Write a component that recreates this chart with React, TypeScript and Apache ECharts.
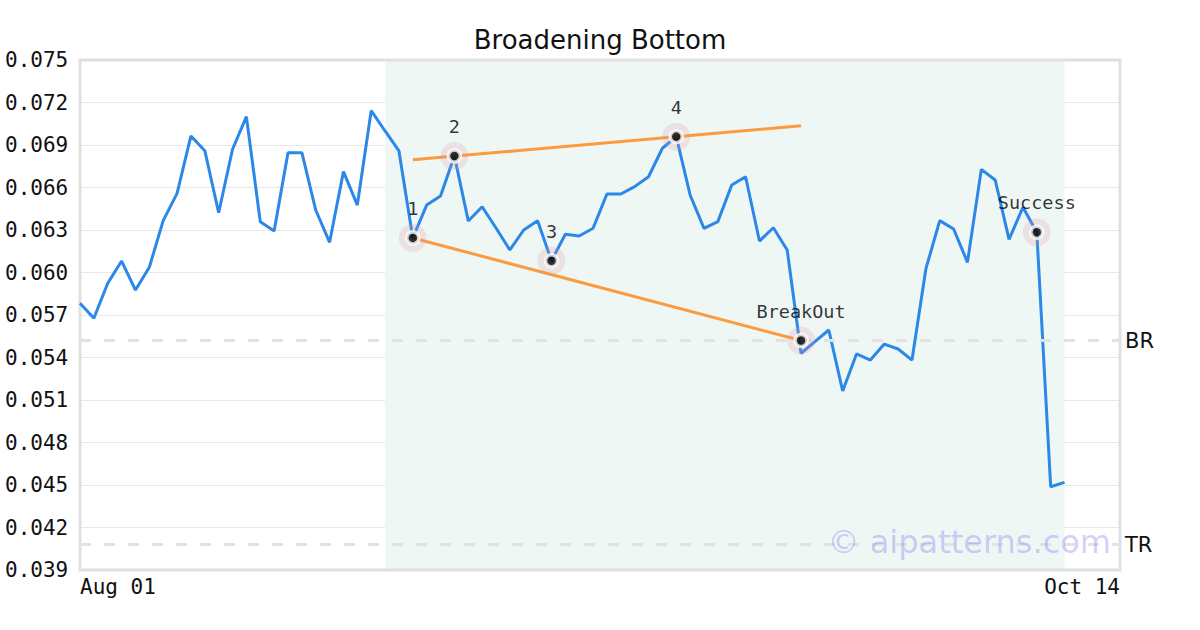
import React, { useEffect, useRef } from "react";
import * as echarts from "echarts";

// ---- data ----
const chartTitle = "Broadening Bottom";
const xTickLabels = ["Aug 01", "Oct 14"];
const xAxisMax = 75; // days shown on the axis

const priceValues = [
  0.05783, 0.05677, 0.05924, 0.06081, 0.05876, 0.06037, 0.06366, 0.06559, 0.06964, 0.0686,
  0.06422, 0.0687, 0.071, 0.06359, 0.06293, 0.06846, 0.06846, 0.06441, 0.06213, 0.06712,
  0.06476, 0.07142, 0.06999, 0.06858, 0.06244, 0.06476, 0.0654, 0.06822, 0.06364, 0.06464,
  0.06314, 0.06159, 0.063, 0.06366, 0.06083, 0.0627, 0.06258, 0.06312, 0.06554, 0.06554,
  0.06606, 0.06676, 0.06877, 0.06959, 0.06547, 0.06312, 0.06359, 0.06618, 0.06676, 0.06222,
  0.06316, 0.06159, 0.0543, 0.05512, 0.05594, 0.05164, 0.05425, 0.05382, 0.05495, 0.0546,
  0.05382, 0.06025, 0.06366, 0.06307, 0.06072, 0.06728, 0.06653, 0.06234, 0.0646, 0.06284,
  0.04488, 0.04519,
];

const pointIndex = [24, 27, 34, 43, 52, 69];
const pointValue = [0.06244, 0.06822, 0.06083, 0.06959, 0.0552, 0.06284];
const pointLabel = ["1", "2", "3", "4", "BreakOut", "Success"];

const upperTrendIndex = [24, 52];
const upperTrendValue = [0.06796, 0.07036];
const lowerTrendIndex = [24, 52];
const lowerTrendValue = [0.06244, 0.0552];

const patternRange = [22, 71];
const levelNames = ["BR", "TR"];
const levelValues = [0.0552, 0.0408];

const yMin = 0.039;
const yMax = 0.075;
const yStep = 0.003;

const watermark = "© aipatterns.com";

export default function App() {
  const ref = useRef<HTMLDivElement>(null);

  useEffect(() => {
    document.body.style.margin = "0";
    if (!ref.current) return;
    const chart = echarts.init(ref.current, undefined, { renderer: "svg" });

    const mono = "DejaVu Sans Mono";
    const sans = "DejaVu Sans";

    const option: any = {
      animation: false,
      backgroundColor: "#ffffff",
      title: {
        text: chartTitle,
        left: "center",
        top: 22,
        textStyle: { fontFamily: sans, fontSize: 26, fontWeight: "normal", color: "#111" },
      },
      grid: {
        left: 80,
        right: 80,
        top: 60,
        bottom: 60,
        show: true,
        borderColor: "#e0e0e0",
        borderWidth: 3,
        backgroundColor: "transparent",
        z: 3,
      },
      xAxis: {
        type: "value",
        min: 0,
        max: xAxisMax,
        interval: xAxisMax,
        axisLine: { show: false },
        axisTick: { show: false },
        splitLine: { show: false },
        axisLabel: {
          margin: 6,
          fontFamily: mono,
          fontSize: 21,
          color: "#111",
          showMinLabel: true,
          showMaxLabel: true,
          alignMinLabel: "left",
          alignMaxLabel: "right",
          formatter: (v: number) => (v === 0 ? xTickLabels[0] : v === xAxisMax ? xTickLabels[1] : ""),
        },
      },
      yAxis: {
        type: "value",
        min: yMin,
        max: yMax,
        interval: yStep,
        axisLine: { show: false },
        axisTick: { show: false },
        splitLine: { show: true, lineStyle: { color: "#e8e8e8", width: 1 } },
        axisLabel: {
          align: "left",
          margin: 75,
          fontFamily: mono,
          fontSize: 21,
          color: "#111",
          formatter: (v: number) => v.toFixed(3),
        },
      },
      series: [
        {
          type: "line",
          name: "price",
          data: priceValues.map((v, i) => [i, v]),
          showSymbol: false,
          symbol: "none",
          lineStyle: { color: "#2b87e8", width: 3 },
          z: 4,
          markArea: {
            silent: true,
            itemStyle: { color: "#eff7f4" },
            data: [[{ xAxis: patternRange[0] }, { xAxis: patternRange[1] }]],
          },
          markLine: {
            silent: true,
            symbol: "none",
            precision: 6,
            lineStyle: { color: "#e2e2e2", width: 3, type: [11, 13] },
            label: {
              position: "end",
              distance: 5,
              fontFamily: sans,
              fontSize: 21,
              color: "#111",
              formatter: (p: any) => p.name,
            },
            data: levelValues.map((v, i) => ({ yAxis: v, name: levelNames[i] })),
          },
        },
        {
          type: "line",
          name: "upper",
          data: upperTrendIndex.map((x, i) => [x, upperTrendValue[i]]),
          showSymbol: false,
          symbol: "none",
          lineStyle: { color: "#fb9a3f", width: 3 },
          z: 5,
        },
        {
          type: "line",
          name: "lower",
          data: lowerTrendIndex.map((x, i) => [x, lowerTrendValue[i]]),
          showSymbol: false,
          symbol: "none",
          lineStyle: { color: "#fb9a3f", width: 3 },
          z: 5,
        },
        {
          type: "scatter",
          name: "halo",
          data: pointIndex.map((x, i) => [x, pointValue[i], pointLabel[i]]),
          symbolSize: 28,
          itemStyle: { color: "rgba(220,150,170,0.3)" },
          z: 6,
          label: {
            show: true,
            position: "top",
            distance: 6,
            fontFamily: mono,
            fontSize: 18.5,
            color: "#000",
            formatter: (p: any) => p.data[2],
          },
        },
        {
          type: "scatter",
          name: "marker",
          data: pointIndex.map((x, i) => [x, pointValue[i]]),
          symbolSize: 12,
          itemStyle: { color: "#000", borderColor: "#fff", borderWidth: 3.5 },
          z: 7,
        },
      ],
      graphic: [
        {
          type: "text",
          x: 1111,
          y: 542,
          z: 100,
          silent: true,
          style: {
            text: watermark,
            font: `32px ${sans}`,
            fill: "rgba(110,110,240,0.33)",
            align: "right",
            verticalAlign: "middle",
          },
        },
      ],
    };

    chart.setOption(option);
    return () => chart.dispose();
  }, []);

  return <div ref={ref} style={{ width: 1200, height: 630 }} />;
}
